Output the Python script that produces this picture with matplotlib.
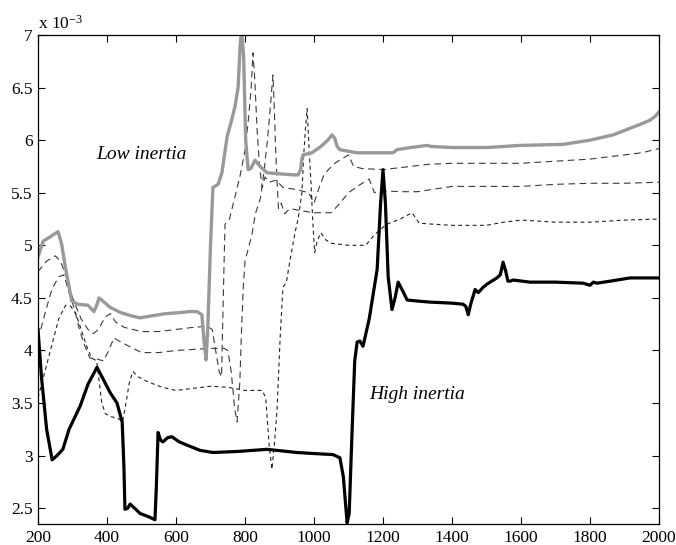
import matplotlib
matplotlib.use("Agg")
import matplotlib.pyplot as plt

# ---- data (values in units of 1e-3) ----
gray_x = [200, 215, 235, 258, 268, 280, 298, 315, 345, 362, 370, 377, 395, 409, 440, 470, 496, 530,
          570, 610, 640, 661, 675, 681, 687, 692, 700, 707, 722, 733, 748, 762, 771, 780, 786, 790,
          796, 802, 809, 817, 829, 844, 864, 900, 940, 954, 961, 965, 968, 994, 1020, 1040, 1052,
          1060, 1067, 1075, 1090, 1125, 1180, 1229, 1241, 1280, 1328, 1340, 1400, 1502, 1597, 1722,
          1800, 1867, 1945, 1974, 1990, 2000]
gray_y = [4.89, 5.04, 5.08, 5.13, 5.02, 4.78, 4.47, 4.44, 4.43, 4.37, 4.43, 4.50, 4.45, 4.41, 4.36,
          4.33, 4.31, 4.33, 4.35, 4.36, 4.37, 4.37, 4.34, 4.10, 3.91, 4.20, 5.00, 5.55, 5.58, 5.69,
          6.03, 6.20, 6.32, 6.50, 6.90, 7.05, 6.80, 6.00, 5.72, 5.73, 5.81, 5.75, 5.69, 5.68, 5.67,
          5.67, 5.72, 5.82, 5.86, 5.88, 5.94, 6.00, 6.05, 6.02, 5.94, 5.91, 5.90, 5.88, 5.88, 5.88,
          5.91, 5.93, 5.95, 5.94, 5.93, 5.93, 5.95, 5.96, 6.00, 6.05, 6.15, 6.19, 6.23, 6.27]

d1_x = [200, 225, 250, 265, 280, 295, 310, 325, 345, 360, 375, 395, 410, 425, 450, 500, 550, 600,
        650, 690, 705, 715, 725, 732, 737, 742, 755, 770, 785, 800, 810, 818, 823, 828, 835, 842,
        850, 858, 870, 890, 910, 950, 985, 1000, 1015, 1030, 1060, 1100, 1115, 1140, 1200, 1280,
        1330, 1400, 1500, 1600, 1700, 1800, 1900, 1950, 2000]
d1_y = [4.75, 4.85, 4.90, 4.85, 4.72, 4.55, 4.42, 4.30, 4.20, 4.16, 4.20, 4.32, 4.35, 4.27, 4.22,
        4.18, 4.18, 4.20, 4.22, 4.23, 4.20, 4.00, 3.80, 3.75, 4.50, 5.20, 5.25, 5.45, 5.65, 5.90,
        6.20, 6.50, 6.83, 6.60, 6.10, 5.75, 5.55, 5.65, 5.60, 5.62, 5.55, 5.53, 5.50, 5.40, 5.55,
        5.68, 5.78, 5.86, 5.75, 5.73, 5.72, 5.75, 5.77, 5.78, 5.78, 5.78, 5.80, 5.82, 5.86, 5.88, 5.92]

d2_x = [200, 220, 240, 260, 275, 290, 305, 320, 335, 350, 370, 390, 405, 420, 440, 470, 500, 550,
        600, 650, 700, 740, 750, 760, 770, 777, 785, 790, 795, 800, 808, 820, 830, 845, 855, 865,
        873, 881, 885, 889, 893, 897, 905, 915, 930, 960, 1000, 1050, 1075, 1100, 1130, 1160, 1175,
        1190, 1250, 1300, 1400, 1500, 1600, 1700, 1800, 1900, 2000]
d2_y = [4.10, 4.35, 4.58, 4.70, 4.72, 4.55, 4.40, 4.20, 4.05, 3.93, 3.92, 3.90, 4.00, 4.12, 4.08,
        4.03, 3.98, 3.98, 4.00, 4.01, 4.02, 4.02, 4.00, 3.80, 3.45, 3.32, 3.70, 4.20, 4.60, 4.85,
        4.95, 5.10, 5.30, 5.45, 5.70, 6.00, 6.30, 6.62, 6.30, 5.90, 5.60, 5.35, 5.40, 5.30, 5.35,
        5.33, 5.31, 5.31, 5.40, 5.50, 5.57, 5.63, 5.50, 5.52, 5.51, 5.51, 5.56, 5.56, 5.56, 5.58,
        5.59, 5.59, 5.60]

d3_x = [200, 220, 240, 260, 280, 295, 310, 325, 340, 355, 370, 385, 395, 410, 430, 445, 455, 465,
        475, 490, 520, 560, 600, 650, 700, 750, 800, 850, 860, 870, 878, 885, 893, 902, 910, 920,
        930, 945, 955, 965, 970, 975, 980, 986, 992, 996, 1002, 1010, 1020, 1035, 1050, 1100, 1150,
        1175, 1210, 1250, 1284, 1305, 1350, 1400, 1500, 1550, 1600, 1700, 1800, 1900, 2000]
d3_y = [3.55, 3.80, 4.05, 4.30, 4.43, 4.42, 4.35, 4.20, 4.05, 3.93, 3.90, 3.50, 3.40, 3.37, 3.36,
        3.32, 3.50, 3.70, 3.80, 3.75, 3.70, 3.65, 3.62, 3.64, 3.66, 3.65, 3.62, 3.62, 3.55, 3.10,
        2.87, 3.10, 3.44, 4.13, 4.60, 4.65, 4.85, 5.12, 5.27, 5.50, 5.85, 6.10, 6.30, 5.90, 5.55,
        5.25, 4.93, 5.05, 5.12, 5.05, 5.02, 5.00, 5.00, 5.10, 5.20, 5.25, 5.31, 5.21, 5.20, 5.19,
        5.19, 5.22, 5.24, 5.22, 5.22, 5.24, 5.25]

black_x = [200, 210, 225, 241, 255, 272, 290, 322, 345, 371, 390, 409, 429, 444, 449, 452, 460, 467,
           480, 496, 520, 539, 543, 548, 555, 562, 575, 588, 610, 632, 670, 707, 780, 864, 950, 1000,
           1055, 1075, 1085, 1096, 1102, 1110, 1118, 1125, 1133, 1142, 1160, 1183, 1193, 1200, 1207,
           1215, 1226, 1235, 1244, 1255, 1270, 1300, 1336, 1400, 1432, 1440, 1447, 1455, 1467, 1476,
           1490, 1501, 1530, 1540, 1548, 1556, 1562, 1570, 1577, 1626, 1700, 1780, 1800, 1810, 1820,
           1860, 1916, 1960, 2000]
black_y = [4.20, 3.75, 3.25, 2.96, 3.00, 3.06, 3.25, 3.47, 3.68, 3.84, 3.72, 3.60, 3.50, 3.32, 2.90,
           2.49, 2.50, 2.54, 2.50, 2.45, 2.42, 2.39, 2.70, 3.22, 3.15, 3.13, 3.17, 3.18, 3.13, 3.10,
           3.05, 3.03, 3.04, 3.06, 3.03, 3.02, 3.01, 2.98, 2.80, 2.36, 2.45, 3.20, 3.90, 4.08, 4.09,
           4.04, 4.30, 4.77, 5.40, 5.72, 5.40, 4.70, 4.39, 4.50, 4.65, 4.58, 4.48, 4.47, 4.46, 4.45,
           4.44, 4.42, 4.34, 4.45, 4.58, 4.55, 4.60, 4.63, 4.69, 4.72, 4.84, 4.75, 4.66, 4.66, 4.67,
           4.65, 4.65, 4.64, 4.62, 4.65, 4.64, 4.66, 4.69, 4.69, 4.69]

x_ticks = [200, 400, 600, 800, 1000, 1200, 1400, 1600, 1800, 2000]
y_ticks = [2.5, 3, 3.5, 4, 4.5, 5, 5.5, 6, 6.5, 7]
y_tick_labels = ["2.5", "3", "3.5", "4", "4.5", "5", "5.5", "6", "6.5", "7"]

# ---- style ----
plt.rcParams['font.family'] = ['Liberation Serif', 'DejaVu Serif']
plt.rcParams['mathtext.fontset'] = 'custom'
plt.rcParams['mathtext.rm'] = 'Liberation Serif'
plt.rcParams['mathtext.it'] = 'Liberation Serif:italic'

fig = plt.figure(figsize=(6.76, 5.45), dpi=100)
ax = fig.add_axes([38 / 676, 1 - 524 / 545, (659 - 38) / 676, (524 - 35) / 545])

dash_col = '#3a3a3a'
ax.plot(d1_x, d1_y, color=dash_col, lw=0.8, dashes=(6, 4))
ax.plot(d2_x, d2_y, color=dash_col, lw=0.8, dashes=(6, 4))
ax.plot(d3_x, d3_y, color='#222222', lw=0.8, dashes=(3.5, 3))
ax.plot(gray_x, gray_y, color='#999999', lw=2.4, solid_joinstyle='round')
ax.plot(black_x, black_y, color='black', lw=2.3, solid_joinstyle='round')

ax.set_xlim(200, 2000)
ax.set_ylim(2.35, 7)
ax.set_xticks(x_ticks)
ax.set_xticklabels([str(v) for v in x_ticks])
ax.set_yticks(y_ticks)
ax.set_yticklabels(y_tick_labels)
ax.tick_params(direction='in', top=True, right=True, length=5, width=0.8,
               labelsize=12.5, pad=4)
for s in ax.spines.values():
    s.set_linewidth(0.9)

ax.text(500, 5.86, "Low inertia", fontsize=14, style='italic', ha='center', va='center')
ax.text(1300, 3.58, "High inertia", fontsize=14, style='italic', ha='center', va='center')
fig.text(38 / 676, 1 - 29 / 545, r"x 10$^{-3}$", fontsize=12.5, ha='left', va='baseline')

fig.savefig("out.png", dpi=100)
